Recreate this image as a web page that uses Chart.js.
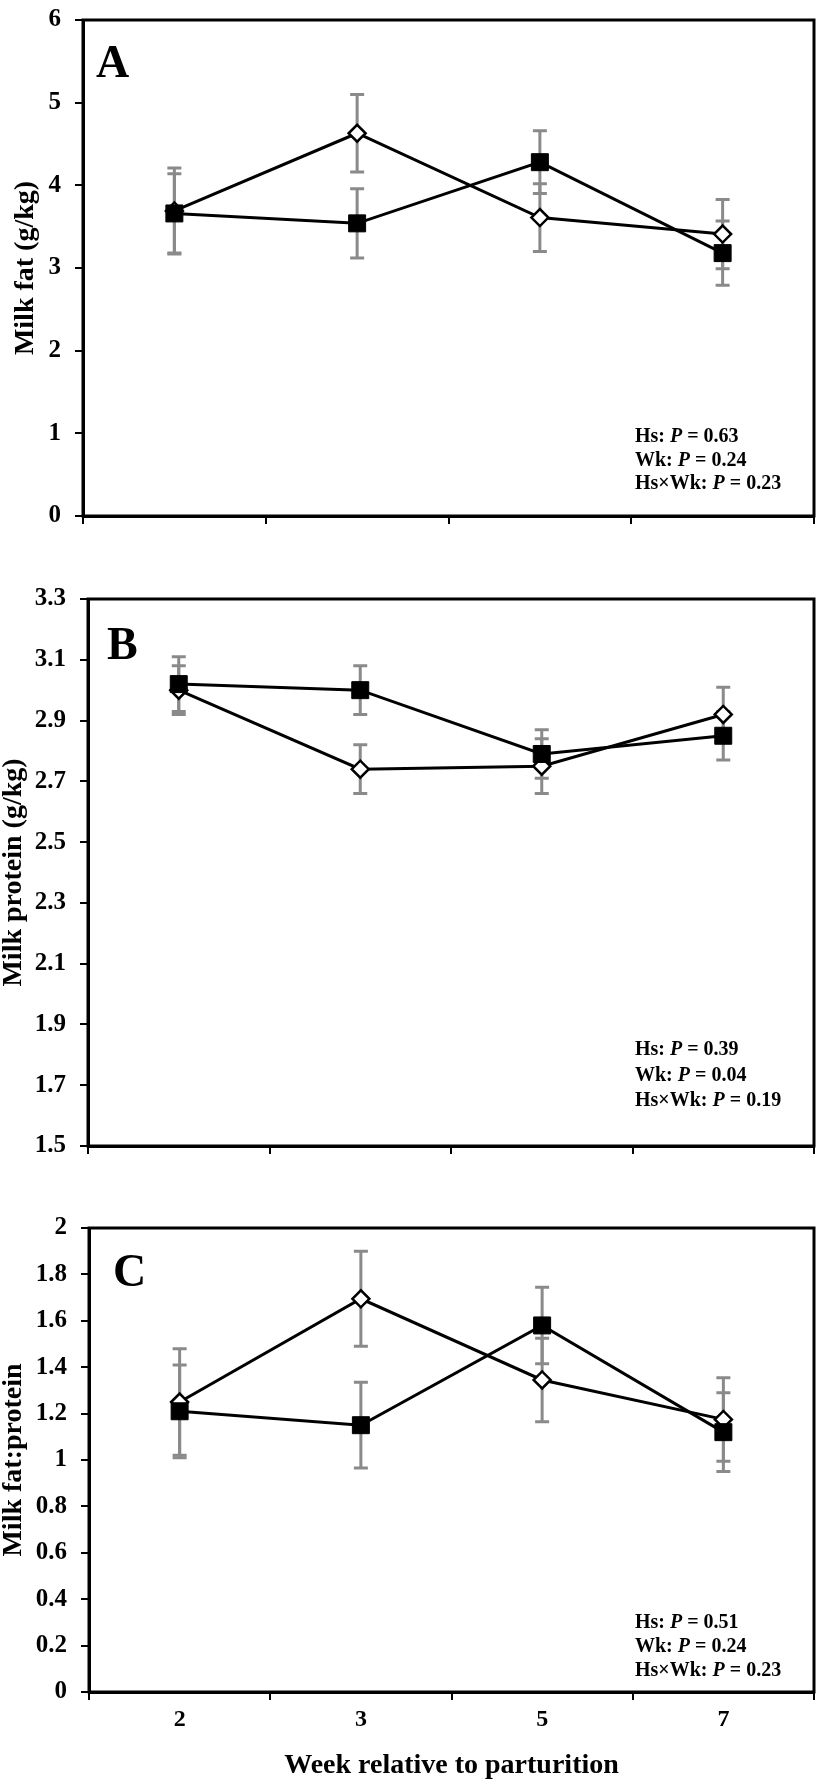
<!DOCTYPE html>
<html>
<head>
<meta charset="utf-8">
<script src="https://cdn.jsdelivr.net/npm/chart.js@4.4.0/dist/chart.umd.min.js"></script>
<style>
    body { margin: 0; background: #fff; width: 827px; height: 1780px; position: relative; overflow: hidden; }
    .painel { position: absolute; left: 0; width: 827px; }
</style>
</head>
<body>
<div class="painel" style="top:-9px; height:554px;"><canvas id="graficoA"></canvas></div>
<div class="painel" style="top:570px; height:605px;"><canvas id="graficoB"></canvas></div>
<div class="painel" style="top:1199px; height:581px;"><canvas id="graficoC"></canvas></div>
<script>
/* ==========================================================================
   1. DADOS
   ========================================================================== */
const semanas = ['2', '3', '5', '7'];
const prefixosP = ['Hs: ', 'Wk: ', 'Hs\u00D7Wk: '];

// Painel A - gordura do leite (g/kg)
const gorduraQuadrado = [3.66, 3.54, 4.28, 3.18];
const gorduraQuadradoErro = [0.48, 0.42, 0.38, 0.39];
const gorduraLosango = [3.69, 4.63, 3.61, 3.41];
const gorduraLosangoErro = [0.52, 0.47, 0.41, 0.42];
const ticksA = [0, 1, 2, 3, 4, 5, 6];
const pValoresA = ['0.63', '0.24', '0.23'];

// Painel B - proteína do leite (g/kg)
const proteinaQuadrado = [3.02, 3.00, 2.79, 2.85];
const proteinaQuadradoErro = [0.09, 0.08, 0.08, 0.08];
const proteinaLosango = [3.00, 2.74, 2.75, 2.92];
const proteinaLosangoErro = [0.08, 0.08, 0.09, 0.09];
const ticksB = [1.5, 1.7, 1.9, 2.1, 2.3, 2.5, 2.7, 2.9, 3.1, 3.3];
const pValoresB = ['0.39', '0.04', '0.19'];

// Painel C - razão gordura:proteína
const razaoQuadrado = [1.21, 1.15, 1.58, 1.12];
const razaoQuadradoErro = [0.20, 0.185, 0.165, 0.17];
const razaoLosango = [1.25, 1.695, 1.345, 1.175];
const razaoLosangoErro = [0.23, 0.205, 0.18, 0.18];
const ticksC = [0, 0.2, 0.4, 0.6, 0.8, 1, 1.2, 1.4, 1.6, 1.8, 2];
const pValoresC = ['0.51', '0.24', '0.23'];

/* ==========================================================================
   2. PLUGINS (barras de erro, moldura, letra e valores de P)
   ========================================================================== */
const FONTE = '"Liberation Serif", "Times New Roman", serif';

const barrasErro = {
    id: 'barrasErro',
    beforeDatasetsDraw(chart) {
        const { ctx, scales: { x, y } } = chart;
        ctx.save();
        ctx.strokeStyle = '#8a8a8a';
        ctx.lineWidth = 3;
        chart.data.datasets.forEach(ds => {
            ds.data.forEach((v, i) => {
                const px = x.getPixelForValue(i);
                const topo = y.getPixelForValue(v + ds.erros[i]);
                const base = y.getPixelForValue(v - ds.erros[i]);
                ctx.beginPath();
                ctx.moveTo(px, topo); ctx.lineTo(px, base);
                ctx.moveTo(px - 7, topo); ctx.lineTo(px + 7, topo);
                ctx.moveTo(px - 7, base); ctx.lineTo(px + 7, base);
                ctx.stroke();
            });
        });
        ctx.restore();
    }
};

const moldura = {
    id: 'moldura',
    afterDraw(chart, args, opts) {
        const { ctx, chartArea: a } = chart;
        ctx.save();
        // caixa em volta da área do gráfico
        ctx.strokeStyle = '#000';
        ctx.lineWidth = 3;
        ctx.strokeRect(a.left, a.top, a.right - a.left, a.bottom - a.top);

        // letra do painel
        ctx.fillStyle = '#000';
        ctx.textBaseline = 'alphabetic';
        ctx.font = 'bold 46px ' + FONTE;
        ctx.fillText(opts.letra, a.left + opts.letraX, a.top + opts.letraY);

        // valores de P (P em itálico)
        opts.pValores.forEach((p, i) => {
            let px = opts.anotX;
            const py = a.bottom + opts.anotY[i];
            const partes = [[prefixosP[i], 'bold'], ['P', 'italic bold'], [' = ' + p, 'bold']];
            partes.forEach(([txt, estilo]) => {
                ctx.font = estilo + ' 20px ' + FONTE;
                ctx.fillText(txt, px, py);
                px += ctx.measureText(txt).width;
            });
        });
        ctx.restore();
    }
};

/* ==========================================================================
   3. MOTOR DOS GRÁFICOS
   ========================================================================== */
function criarGrafico(idCanvas, cfg) {
    const ctx = document.getElementById(idCanvas).getContext('2d');
    return new Chart(ctx, {
        type: 'line',
        data: {
            labels: semanas,
            datasets: [
                {
                    data: cfg.quadrado,
                    erros: cfg.quadradoErro,
                    borderColor: '#000',
                    borderWidth: 3,
                    pointStyle: 'rect',
                    pointRadius: 12,
                    pointBackgroundColor: '#000',
                    pointBorderColor: '#000',
                    pointBorderWidth: 1,
                    tension: 0
                },
                {
                    data: cfg.losango,
                    erros: cfg.losangoErro,
                    borderColor: '#000',
                    borderWidth: 3,
                    pointStyle: 'rectRot',
                    pointRadius: 8.5,
                    pointBackgroundColor: '#fff',
                    pointBorderColor: '#000',
                    pointBorderWidth: 2.5,
                    tension: 0
                }
            ]
        },
        options: {
            responsive: true,
            maintainAspectRatio: false,
            animation: false,
            layout: { padding: { top: 20, right: 3, left: 0, bottom: 0 } },
            plugins: {
                legend: { display: false },
                tooltip: { enabled: false },
                moldura: cfg.info
            },
            scales: {
                x: {
                    type: 'category',
                    offset: true,
                    grid: { offset: true, drawOnChartArea: false, drawTicks: true, tickLength: 8, color: '#000', lineWidth: 2 },
                    border: { color: '#000', width: 3 },
                    ticks: {
                        display: cfg.mostrarX,
                        color: '#000',
                        padding: 5,
                        font: { family: FONTE, size: 24, weight: 'bold' }
                    },
                    title: {
                        display: cfg.mostrarX,
                        text: 'Week relative to parturition',
                        color: '#000',
                        padding: { top: 0, bottom: 0 },
                        font: { family: FONTE, size: 28, weight: 'bold', lineHeight: 1 }
                    },
                    afterFit: s => { s.height = cfg.alturaX; }
                },
                y: {
                    min: cfg.ticks[0],
                    max: cfg.ticks[cfg.ticks.length - 1],
                    afterBuildTicks: s => { s.ticks = cfg.ticks.map(v => ({ value: v })); },
                    grid: { drawOnChartArea: false, drawTicks: true, tickLength: 8, color: '#000', lineWidth: 2 },
                    border: { color: '#000', width: 3 },
                    ticks: {
                        color: '#000',
                        padding: 14,
                        font: { family: FONTE, size: 25, weight: 'bold' },
                        callback: v => String(v)
                    },
                    title: {
                        display: true,
                        text: cfg.tituloY,
                        color: '#000',
                        padding: { top: cfg.tituloPad, bottom: 0 },
                        font: { family: FONTE, size: 28, weight: 'bold', lineHeight: 1 }
                    },
                    afterFit: s => { s.width = cfg.larguraY; }
                }
            }
        },
        plugins: [barrasErro, moldura]
    });
}

/* ==========================================================================
   4. INICIALIZAÇÃO
   ========================================================================== */
criarGrafico('graficoA', {
    quadrado: gorduraQuadrado, quadradoErro: gorduraQuadradoErro,
    losango: gorduraLosango, losangoErro: gorduraLosangoErro,
    ticks: ticksA, tituloY: 'Milk fat (g/kg)', tituloPad: 12, larguraY: 83,
    mostrarX: false, alturaX: 22,
    info: { letra: 'A', letraX: 13, letraY: 57, anotX: 635, anotY: [-74, -50, -27], pValores: pValoresA }
});

criarGrafico('graficoB', {
    quadrado: proteinaQuadrado, quadradoErro: proteinaQuadradoErro,
    losango: proteinaLosango, losangoErro: proteinaLosangoErro,
    ticks: ticksB, tituloY: 'Milk protein (g/kg)', tituloPad: 0, larguraY: 88,
    mostrarX: false, alturaX: 22,
    info: { letra: 'B', letraX: 19, letraY: 60, anotX: 635, anotY: [-91, -65, -40], pValores: pValoresB }
});

criarGrafico('graficoC', {
    quadrado: razaoQuadrado, quadradoErro: razaoQuadradoErro,
    losango: razaoLosango, losangoErro: razaoLosangoErro,
    ticks: ticksC, tituloY: 'Milk fat:protein', tituloPad: 0, larguraY: 89,
    mostrarX: true, alturaX: 88,
    info: { letra: 'C', letraX: 24, letraY: 58, anotX: 635, anotY: [-64, -40, -16], pValores: pValoresC }
});
</script>
</body>
</html>
